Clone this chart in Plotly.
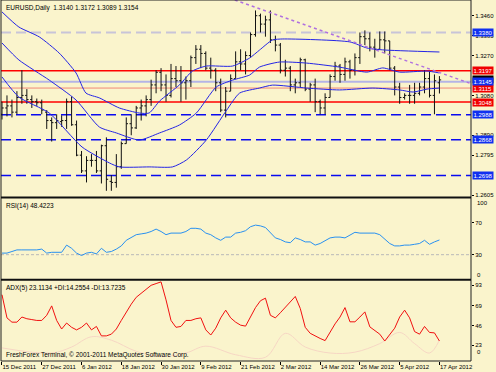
import plotly.graph_objects as go

# ---------------- data ----------------
bar_idx = list(range(89))
tick_idx = [0, 8, 16, 24, 32, 40, 48, 56, 64, 72, 80, 88]
tick_labels = ["15 Dec 2011", "27 Dec 2011", "6 Jan 2012", "18 Jan 2012", "30 Jan 2012",
               "9 Feb 2012", "21 Feb 2012", "2 Mar 2012", "14 Mar 2012", "26 Mar 2012",
               "5 Apr 2012", "17 Apr 2012"]

opens = [1.2990, 1.3020, 1.3030, 1.3000, 1.3070, 1.3080, 1.3060, 1.3050, 1.3045, 1.3000,
         1.2960, 1.2950, 1.2955, 1.2960, 1.3050, 1.2940, 1.2795, 1.2720, 1.2770, 1.2770,
         1.2720, 1.2840, 1.2670, 1.2665, 1.2740, 1.2850, 1.2945, 1.2925, 1.3020, 1.3030,
         1.3060, 1.3130, 1.3190, 1.3130, 1.3080, 1.3160, 1.3150, 1.3140, 1.3150, 1.3260,
         1.3300, 1.3280, 1.3210, 1.3200, 1.3140, 1.3010, 1.3100, 1.3160, 1.3240, 1.3230,
         1.3270, 1.3370, 1.3460, 1.3420, 1.3440, 1.3345, 1.3320, 1.3200, 1.3210, 1.3130,
         1.3140, 1.3250, 1.3110, 1.3130, 1.3050, 1.3020, 1.3070, 1.3170, 1.3220, 1.3180,
         1.3240, 1.3200, 1.3260, 1.3360, 1.3350, 1.3310, 1.3300, 1.3345, 1.3340, 1.3210,
         1.3120, 1.3070, 1.3080, 1.3080, 1.3090, 1.3120, 1.3160, 1.3080, 1.3140]
highs = [1.3050, 1.3080, 1.3060, 1.3100, 1.3200, 1.3110, 1.3080, 1.3065, 1.3060, 1.3010,
         1.2975, 1.2990, 1.2985, 1.3065, 1.3075, 1.2960, 1.2815, 1.2790, 1.2800, 1.2815,
         1.2845, 1.2880, 1.2700, 1.2800, 1.2860, 1.2975, 1.2990, 1.3030, 1.3060, 1.3080,
         1.3155, 1.3200, 1.3210, 1.3180, 1.3230, 1.3220, 1.3220, 1.3170, 1.3270, 1.3320,
         1.3320, 1.3290, 1.3260, 1.3210, 1.3160, 1.3120, 1.3180, 1.3290, 1.3300, 1.3290,
         1.3380, 1.3485, 1.3470, 1.3460, 1.3485, 1.3365, 1.3330, 1.3250, 1.3220, 1.3160,
         1.3260, 1.3255, 1.3140, 1.3160, 1.3060, 1.3090, 1.3180, 1.3240, 1.3230, 1.3260,
         1.3250, 1.3280, 1.3380, 1.3390, 1.3380, 1.3350, 1.3385, 1.3385, 1.3340, 1.3220,
         1.3140, 1.3090, 1.3130, 1.3140, 1.3140, 1.3200, 1.3195, 1.3180, 1.3172]
lows = [1.2965, 1.2980, 1.2975, 1.2990, 1.3040, 1.3040, 1.3020, 1.3030, 1.2990, 1.2920,
        1.2860, 1.2920, 1.2930, 1.2920, 1.2935, 1.2790, 1.2710, 1.2665, 1.2740, 1.2710,
        1.2660, 1.2625, 1.2625, 1.2640, 1.2730, 1.2850, 1.2890, 1.2920, 1.2960, 1.2980,
        1.3030, 1.3090, 1.3100, 1.3050, 1.3070, 1.3120, 1.3050, 1.3060, 1.3120, 1.3230,
        1.3210, 1.3200, 1.3160, 1.3100, 1.3000, 1.2975, 1.3100, 1.3160, 1.3200, 1.3180,
        1.3260, 1.3360, 1.3380, 1.3360, 1.3330, 1.3290, 1.3185, 1.3170, 1.3100, 1.3090,
        1.3120, 1.3100, 1.3050, 1.3000, 1.2990, 1.2990, 1.3070, 1.3150, 1.3140, 1.3150,
        1.3160, 1.3175, 1.3230, 1.3320, 1.3290, 1.3260, 1.3300, 1.3280, 1.3200, 1.3080,
        1.3040, 1.3060, 1.3040, 1.3040, 1.3080, 1.3090, 1.3070, 1.2990, 1.3089]
closes = [1.3020, 1.3030, 1.3000, 1.3070, 1.3080, 1.3060, 1.3050, 1.3045, 1.3010, 1.2960,
          1.2950, 1.2960, 1.2960, 1.3050, 1.2940, 1.2795, 1.2720, 1.2770, 1.2770, 1.2720,
          1.2840, 1.2680, 1.2665, 1.2740, 1.2850, 1.2945, 1.2925, 1.3020, 1.3030, 1.3060,
          1.3130, 1.3190, 1.3130, 1.3080, 1.3160, 1.3150, 1.3140, 1.3150, 1.3260, 1.3300,
          1.3280, 1.3210, 1.3200, 1.3140, 1.3010, 1.3100, 1.3160, 1.3240, 1.3230, 1.3270,
          1.3370, 1.3460, 1.3420, 1.3440, 1.3345, 1.3320, 1.3200, 1.3210, 1.3130, 1.3140,
          1.3250, 1.3110, 1.3130, 1.3050, 1.3020, 1.3070, 1.3170, 1.3220, 1.3180, 1.3240,
          1.3200, 1.3260, 1.3360, 1.3350, 1.3310, 1.3300, 1.3345, 1.3340, 1.3210, 1.3120,
          1.3070, 1.3080, 1.3080, 1.3090, 1.3120, 1.3160, 1.3080, 1.3150, 1.3154]

# Bollinger bands (read at key bars)
bb_up_x = [0, 3.4, 7.5, 11.5, 14.9, 16.9, 19.6, 23.6, 27.6, 29.6, 31.7, 35.7, 38.3, 41.1,
           46.4, 49.8, 51.8, 54.4, 56.5, 70, 73.4, 76.6, 88]
bb_up_y = [1.3478, 1.3406, 1.3359, 1.3282, 1.3187, 1.3091, 1.3068, 1.3020, 1.2996, 1.2996,
           1.3053, 1.3130, 1.3196, 1.3220, 1.3220, 1.3258, 1.3296, 1.3344, 1.3349, 1.3335,
           1.3306, 1.3297, 1.3287]
bb_mid_x = [0, 3.4, 9.5, 14.9, 19.6, 23, 27.6, 31.7, 35.7, 39.1, 43.1, 46.4, 49.8, 51.8,
            55.8, 61.3, 67.9, 73.4, 76.6, 80, 85.5, 88]
bb_mid_y = [1.3330, 1.3249, 1.3153, 1.3058, 1.2929, 1.2901, 1.2867, 1.2901, 1.2939, 1.2996,
            1.3120, 1.3153, 1.3177, 1.3215, 1.3239, 1.3234, 1.3215, 1.3191, 1.3211, 1.3191,
            1.3196, 1.3187]
bb_low_x = [0, 3.4, 9.5, 16.1, 21.6, 23.6, 29.6, 34.3, 37.1, 41.1, 45.2, 47.8, 51.8, 54.4,
            61.3, 67.9, 74.6, 80, 82.7, 85.5, 88]
bb_low_y = [1.3168, 1.3072, 1.2996, 1.2834, 1.2758, 1.2739, 1.2739, 1.2739, 1.2772, 1.2867,
            1.3010, 1.3091, 1.3115, 1.3129, 1.3115, 1.3106, 1.3115, 1.3106, 1.3096, 1.3110,
            1.3115]

trend_x = [40, 94.35]
trend_y = [1.3592, 1.3136]

levels = [1.3380, 1.3197, 1.3145, 1.3115, 1.3048, 1.2988, 1.2868, 1.2698]
# scale labels that stay visible beside the level boxes
price_ticks = [1.2605, 1.2795, 1.2890, 1.3080, 1.3270, 1.3365, 1.3460]
last_price = 1.3154

rsi = [32, 32, 34, 36, 36, 36, 36, 36, 37, 32, 33, 33, 33, 42, 38, 32, 29, 32, 33, 31,
       38, 33, 34, 37, 41, 48, 51, 55, 56, 57, 59, 62, 59, 55, 57, 57, 57, 59, 63, 63,
       62, 57, 55, 51, 48, 52, 52, 57, 58, 60, 65, 67, 66, 64, 57, 51, 49, 46, 45, 51,
       49, 46, 46, 42, 44, 47, 51, 52, 52, 51, 54, 58, 57, 57, 57, 57, 55, 50, 44, 41,
       41, 42, 42, 43, 44, 48, 43, 46, 48.4]
adx = [82, 55, 50, 50, 56, 54, 53, 52, 52, 58, 69, 52, 42, 49, 44, 41, 44, 49, 41, 45,
       34, 34, 36, 42, 52, 62, 71, 79, 84, 89, 93, 95, 97, 76, 52, 44, 45, 52, 52, 54,
       55, 41, 35, 43, 55, 64, 55, 50, 46.5, 45.4, 57, 67, 75, 78, 58, 55, 61, 67, 74, 80,
       66, 44, 37, 33.5, 31, 28.5, 39, 48, 56, 67, 50.4, 50.4, 56, 62, 44.5, 40, 36, 28, 36, 43,
       56, 64, 55, 39, 36, 45, 38, 37.5, 28]
di_x = [0, 10, 14, 18, 22, 27, 32, 37, 41, 47, 53, 57, 61, 66, 71, 76, 80, 83, 86, 88]
di_y = [20, 14, 21, 33, 29, 16, 10, 14, 22, 12, 9, 37, 21, 14, 15, 25, 38, 25, 14, 29]

# ---------------- styles ----------------
BG = "#FAF4CC"
FONT = "Liberation Sans, Arial, sans-serif"
level_styles = [
    dict(color="#C8C4D8", width=2, dash="10px,5px"),
    dict(color="#FF0000", width=1.5, dash="solid"),
    dict(color="#B4B4E6", width=2, dash="solid"),
    dict(color="#F08878", width=1, dash="solid"),
    dict(color="#FF0000", width=1.5, dash="solid"),
    dict(color="#0A0AF0", width=1.5, dash="10px,5px"),
    dict(color="#0A0AF0", width=1.5, dash="10px,5px"),
    dict(color="#0A0AF0", width=1.5, dash="10px,5px"),
]
box_colors = ["#1030F0", "#F00000", "#1030F0", "#F00000", "#F00000", "#1030F0", "#1030F0", "#1030F0"]

fig = go.Figure()

fig.add_trace(go.Ohlc(x=bar_idx, open=opens, high=highs, low=lows, close=closes,
                      increasing=dict(line=dict(color="#111111", width=1)),
                      decreasing=dict(line=dict(color="#111111", width=1)),
                      tickwidth=0.35, xaxis="x", yaxis="y", hoverinfo="skip"))

band_line = dict(color="#2424E6", width=1, shape="spline", smoothing=0.6)
for bx, by in [(bb_up_x, bb_up_y), (bb_mid_x, bb_mid_y), (bb_low_x, bb_low_y)]:
    fig.add_trace(go.Scatter(x=bx, y=by, mode="lines", line=band_line, xaxis="x", yaxis="y",
                             hoverinfo="skip"))

fig.add_trace(go.Scatter(x=trend_x, y=trend_y, mode="lines",
                         line=dict(color="#B070E0", width=1.5, dash="dot"),
                         xaxis="x", yaxis="y", hoverinfo="skip"))

fig.add_trace(go.Scatter(x=bar_idx, y=rsi, mode="lines", line=dict(color="#2890F0", width=1),
                         xaxis="x", yaxis="y2", hoverinfo="skip"))
fig.add_trace(go.Scatter(x=di_x, y=di_y, mode="lines",
                         line=dict(color="#F6D6C4", width=1, shape="spline"),
                         xaxis="x", yaxis="y3", hoverinfo="skip"))
fig.add_trace(go.Scatter(x=bar_idx, y=adx, mode="lines", line=dict(color="#F01010", width=1),
                         xaxis="x", yaxis="y3", hoverinfo="skip"))

shapes = []
for lv, st in zip(levels, level_styles):
    shapes.append(dict(type="line", xref="x domain", x0=0, x1=1, yref="y", y0=lv, y1=lv,
                       line=st, layer="below"))
# RSI 30 level
shapes.append(dict(type="line", xref="x domain", x0=0, x1=1, yref="y2", y0=30, y1=30,
                   line=dict(color="#B8B8B8", width=1, dash="3px,2px"), layer="below"))
# frame and separators
shapes.append(dict(type="rect", xref="paper", yref="paper", x0=0, x1=1, y0=0, y1=1,
                   line=dict(color="#202020", width=1)))
for yp in [1 - 197.6 / 361, 1 - 279.7 / 361]:
    shapes.append(dict(type="line", xref="paper", yref="paper", x0=0, x1=1, y0=yp, y1=yp,
                       line=dict(color="#101010", width=2)))

ann = []
small = dict(family=FONT, size=6.5, color="#000000")
ann.append(dict(text="EURUSD,Daily  1.3140 1.3172 1.3089 1.3154", xref="paper", yref="paper",
                x=0, y=1, xanchor="left", yanchor="top", xshift=3, yshift=-2,
                showarrow=False, font=small))
ann.append(dict(text="RSI(14) 48.4223", xref="paper", yref="y2 domain", x=0, y=1,
                xanchor="left", yanchor="top", xshift=3, yshift=-1, showarrow=False, font=small))
ann.append(dict(text="ADX(5) 23.1134 +DI:14.2554 -DI:13.7235", xref="paper", yref="y3 domain",
                x=0, y=1, xanchor="left", yanchor="top", xshift=3, yshift=-1,
                showarrow=False, font=small))
ann.append(dict(text="FreshForex Terminal, \u00a9 2001-2011 MetaQuotes Software Corp.",
                xref="paper", yref="y3 domain", x=0, y=0, xanchor="left", yanchor="bottom",
                xshift=3, yshift=0, showarrow=False, font=small))
axis_font = dict(family=FONT, size=6, color="#000000")
ann.append(dict(text="100", xref="paper", yref="y2", x=1, y=100, xanchor="left", xshift=4,
                yshift=-4, showarrow=False, font=axis_font))
ann.append(dict(text="0", xref="paper", yref="y2", x=1, y=0, xanchor="left", xshift=4,
                yshift=4, showarrow=False, font=axis_font))
ann.append(dict(text="0", xref="paper", yref="y3 domain", x=1, y=0, xanchor="left", xshift=4,
                yshift=4, showarrow=False, font=axis_font))

box_font = dict(family=FONT, size=6, color="#FFFFFF")
ann.append(dict(text=f"{last_price:.4f}", xref="paper", yref="y", x=1, y=last_price,
                xanchor="left", xshift=1, showarrow=False, font=box_font, bgcolor="#000000",
                borderpad=0.5))
order = [0, 1, 3, 4, 5, 6, 7, 2]
for k in order:
    ann.append(dict(text=f"{levels[k]:.4f}", xref="paper", yref="y", x=1, y=levels[k],
                    xanchor="left", xshift=1, showarrow=False, font=box_font,
                    bgcolor=box_colors[k], borderpad=0.5))

fig.update_layout(
    width=496, height=372,
    margin=dict(l=1, r=25, t=0, b=11),
    paper_bgcolor=BG, plot_bgcolor=BG,
    showlegend=False,
    font=dict(family=FONT, size=6, color="#000000"),
    xaxis=dict(range=[-0.2, 94.35], anchor="y3", tickvals=tick_idx, ticktext=tick_labels,
               tickangle=0, ticks="outside", ticklen=3, tickcolor="#000000", tickfont=axis_font,
               ticklabelposition="outside right", showgrid=False, zeroline=False,
               showline=False, rangeslider=dict(visible=False), fixedrange=True),
    yaxis=dict(domain=[1 - 197 / 361, 1], range=[1.25955, 1.35349], side="right", anchor="x",
               tickvals=price_ticks, tickformat=".4f", ticks="outside", ticklen=2,
               tickcolor="#000000", tickfont=axis_font, showgrid=False, zeroline=False,
               fixedrange=True),
    yaxis2=dict(domain=[1 - 278.7 / 361, 1 - 198.7 / 361], range=[0, 100], side="right",
                anchor="x", tickvals=[30, 70], ticks="outside", ticklen=2, tickcolor="#000000",
                tickfont=axis_font, showgrid=False, zeroline=False, fixedrange=True),
    yaxis3=dict(domain=[0, 1 - 280.5 / 361], range=[4.7, 98.6], side="right", anchor="x",
                tickvals=[23, 46, 69, 93], ticks="outside", ticklen=2, tickcolor="#000000",
                tickfont=axis_font, showgrid=False, zeroline=False, fixedrange=True),
    shapes=shapes,
    annotations=ann,
    hovermode=False,
)

fig.write_html("out.html", config={"displayModeBar": False, "staticPlot": True},
               post_script="document.body.style.margin='0';document.body.style.padding='0';")
